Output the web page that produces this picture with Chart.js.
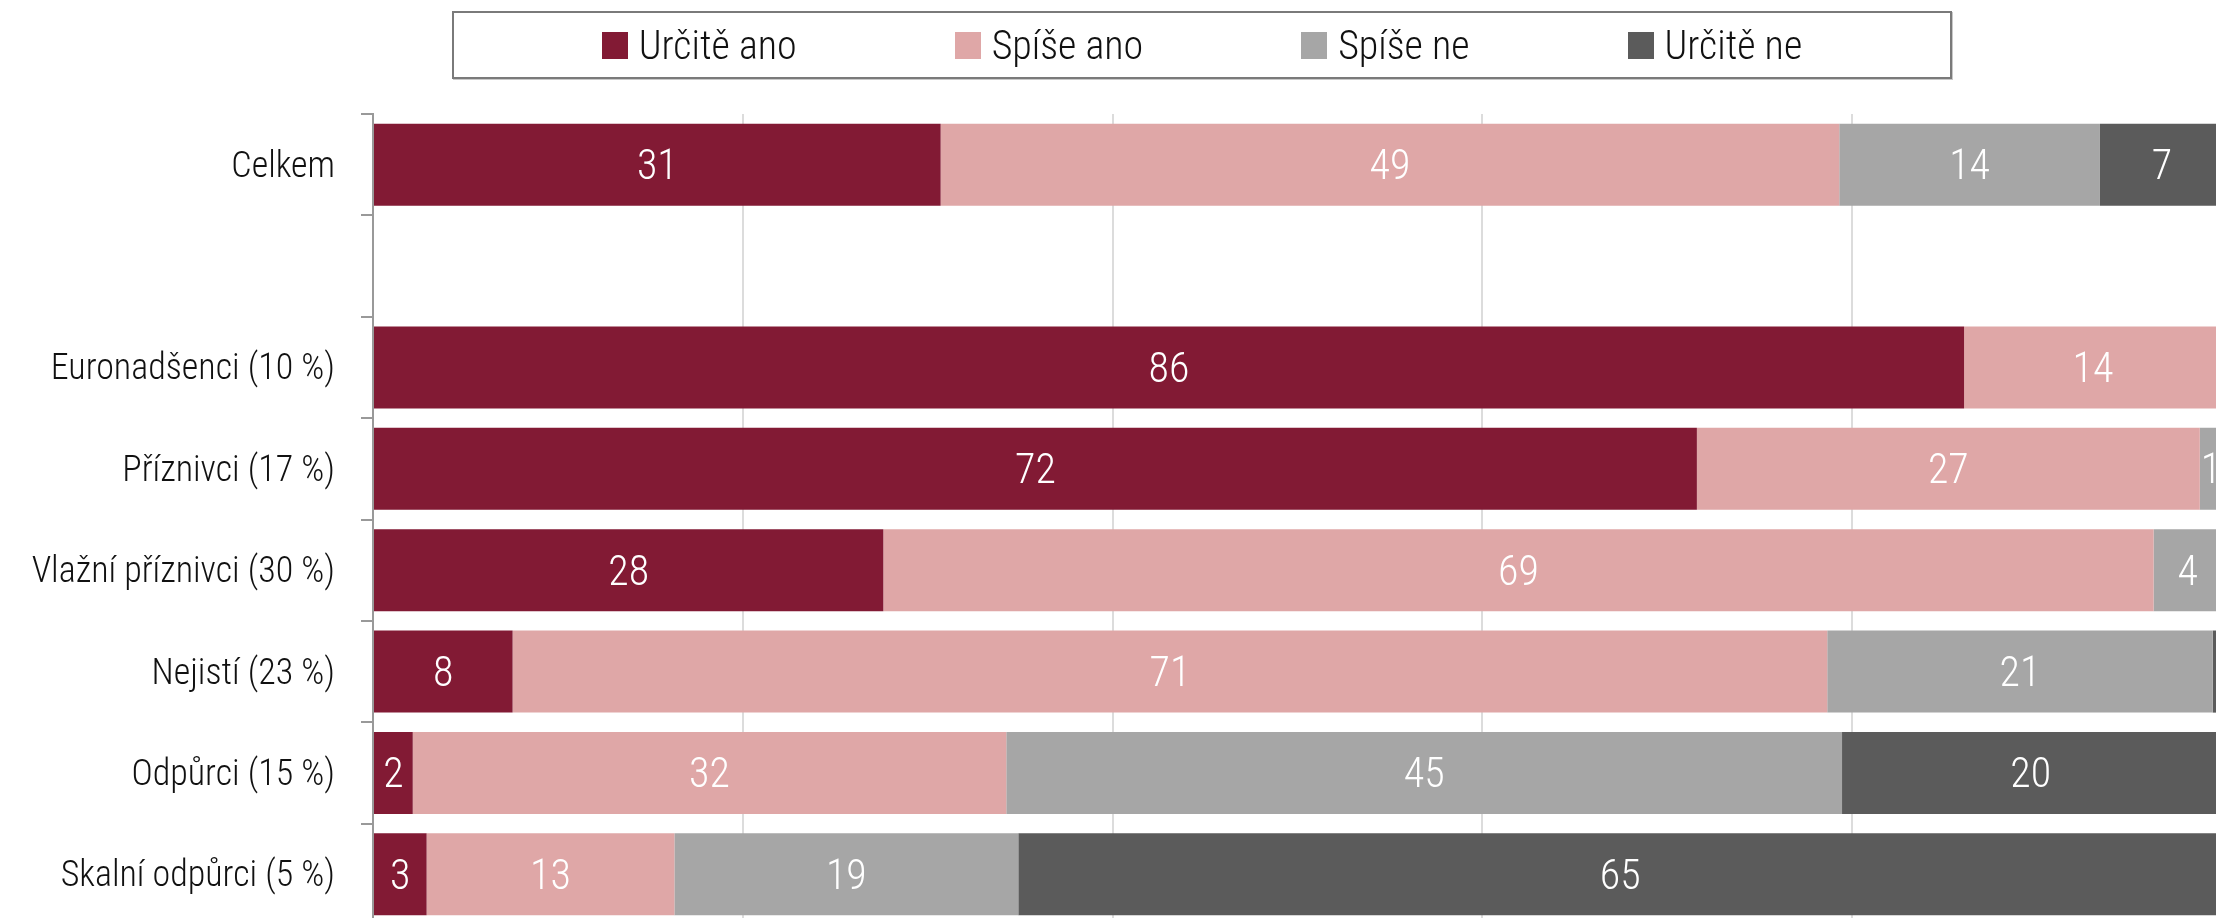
<!DOCTYPE html>
<html lang="cs">
<head>
    <meta charset="UTF-8">
    <title>Postoje k EU</title>
    <script src="https://cdn.jsdelivr.net/npm/chart.js"></script>
    <style>
        html, body { margin: 0; padding: 0; width: 2216px; height: 918px; overflow: hidden; background: #fff; }
        body { font-family: "Roboto Condensed", Roboto, sans-serif; font-weight: 300; position: relative; }
        #obal { position: absolute; left: 0; top: 0; width: 2222px; height: 925px; }
        #legenda {
            position: absolute; left: 452px; top: 11px; width: 1500px; height: 68px;
            box-sizing: border-box; border: 2px solid #7a7a7a; box-shadow: 1px 1px 0 #c8c8c8;
            display: flex; align-items: center; justify-content: center; gap: 158px;
            background: #fff; z-index: 2;
        }
        .polozka { display: flex; align-items: center; font-size: 40px; color: #111; white-space: nowrap; }
        .ctverec { width: 26px; height: 27px; margin-right: 11px; }
    </style>
</head>
<body>
    <div id="obal"><canvas id="graf"></canvas></div>
    <div id="legenda"></div>

    <script>
        const kategorie = ['Celkem', '', 'Euronadšenci (10 %)', 'Příznivci (17 %)', 'Vlažní příznivci (30 %)',
                           'Nejistí (23 %)', 'Odpůrci (15 %)', 'Skalní odpůrci (5 %)'];
        const nazvyRad = ['Určitě ano', 'Spíše ano', 'Spíše ne', 'Určitě ne'];
        const urciteAno = [30.7, null, 86.05, 71.6, 27.6, 7.55, 2.15, 2.9];
        const spiseAno  = [48.6, null, 13.95, 27.2, 68.7, 71.1, 32.1, 13.4];
        const spiseNe   = [14.1, null, 0, 1.2, 3.7, 20.85, 45.2, 18.6];
        const urciteNe  = [6.7, null, 0, 0, 0, 0.45, 20.4, 65.1];
        const barvy = ['#821a34', '#dfa7a7', '#a6a6a6', '#5b5b5b'];

        const rady = [urciteAno, spiseAno, spiseNe, urciteNe];

        // legenda v rámečku
        const legenda = document.getElementById('legenda');
        nazvyRad.forEach((nazev, i) => {
            const el = document.createElement('div');
            el.className = 'polozka';
            el.innerHTML = '<span class="ctverec" style="background:' + barvy[i] + '"></span>' + nazev;
            legenda.appendChild(el);
        });

        // hodnoty uvnitř pruhů
        const popisky = {
            id: 'popisky',
            afterDatasetsDraw(chart) {
                const ctx = chart.ctx;
                ctx.save();
                ctx.font = '300 42px "Roboto Condensed", Roboto, sans-serif';
                ctx.fillStyle = '#fff';
                ctx.textAlign = 'center';
                ctx.textBaseline = 'middle';
                chart.data.datasets.forEach((ds, i) => {
                    chart.getDatasetMeta(i).data.forEach((bar, j) => {
                        const v = ds.data[j];
                        if (v == null || Math.round(v) < 1) return;
                        const p = bar.getProps(['x', 'base', 'y'], true);
                        ctx.fillText(String(Math.round(v)), (p.x + p.base) / 2, p.y + 4);
                    });
                });
                ctx.restore();
            }
        };

        new Chart(document.getElementById('graf'), {
            type: 'bar',
            data: {
                labels: kategorie,
                datasets: rady.map((data, i) => ({
                    label: nazvyRad[i],
                    data: data,
                    backgroundColor: barvy[i],
                    borderWidth: 0,
                    barPercentage: 0.81,
                    categoryPercentage: 1
                }))
            },
            options: {
                indexAxis: 'y',
                responsive: true,
                maintainAspectRatio: false,
                animation: false,
                layout: { padding: { top: 114, right: 0, bottom: 0, left: 0 } },
                plugins: {
                    legend: { display: false },
                    tooltip: { enabled: false }
                },
                scales: {
                    x: {
                        stacked: true,
                        min: 0,
                        max: 100,
                        ticks: { display: false, stepSize: 20 },
                        grid: { color: '#dcdcdc', lineWidth: 2, drawTicks: false },
                        border: { display: false }
                    },
                    y: {
                        stacked: true,
                        afterFit(scale) {
                            scale.width = 373;
                            scale.paddingTop = 0;
                            scale.paddingBottom = 0;
                        },
                        ticks: {
                            padding: 26,
                            labelOffset: 3,
                            color: '#111',
                            font: { family: '"Roboto Condensed", Roboto, sans-serif', size: 36, weight: '300' }
                        },
                        grid: { drawOnChartArea: false, drawTicks: true, tickLength: 12, color: '#999', lineWidth: 2 },
                        border: { display: true, color: '#999', width: 2 }
                    }
                }
            },
            plugins: [popisky]
        });
    </script>
</body>
</html>
